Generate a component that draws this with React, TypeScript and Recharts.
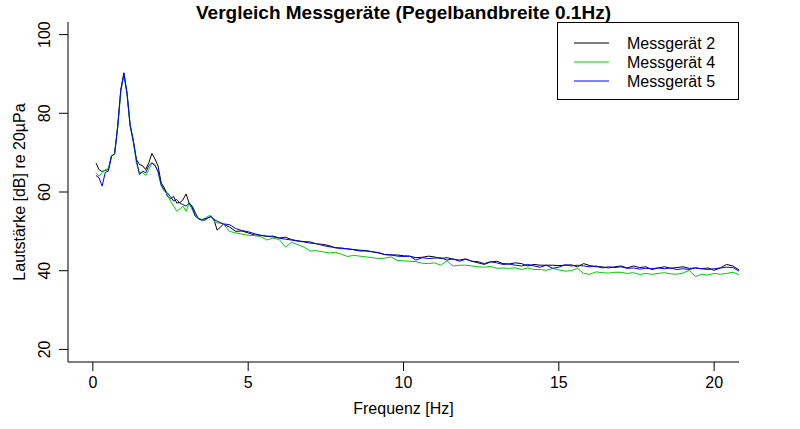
import { LineChart, Line, XAxis, YAxis, Legend } from "recharts"

// Frequenzachse: 0.1 Hz Schritte bis 4 Hz, danach 0.2 Hz
const freq = [
  0.1, 0.2, 0.3, 0.4, 0.5, 0.6, 0.7, 0.8, 0.9, 1.0,
  1.1, 1.2, 1.3, 1.4, 1.5, 1.6, 1.7, 1.8, 1.9, 2.0,
  2.1, 2.2, 2.3, 2.4, 2.5, 2.6, 2.7, 2.8, 2.9, 3.0,
  3.1, 3.2, 3.3, 3.4, 3.5, 3.6, 3.7, 3.8, 3.9, 4.0,
  4.2, 4.4, 4.6, 4.8, 5.0, 5.2, 5.4, 5.6, 5.8, 6.0,
  6.2, 6.4, 6.6, 6.8, 7.0, 7.2, 7.4, 7.6, 7.8, 8.0,
  8.2, 8.4, 8.6, 8.8, 9.0, 9.2, 9.4, 9.6, 9.8, 10.0,
  10.2, 10.4, 10.6, 10.8, 11.0, 11.2, 11.4, 11.6, 11.8, 12.0,
  12.2, 12.4, 12.6, 12.8, 13.0, 13.2, 13.4, 13.6, 13.8, 14.0,
  14.2, 14.4, 14.6, 14.8, 15.0, 15.2, 15.4, 15.6, 15.8, 16.0,
  16.2, 16.4, 16.6, 16.8, 17.0, 17.2, 17.4, 17.6, 17.8, 18.0,
  18.2, 18.4, 18.6, 18.8, 19.0, 19.2, 19.4, 19.6, 19.8, 20.0,
  20.2, 20.4, 20.6, 20.8,
]

const geraet2 = [
  67.4, 65.7, 65.2, 65.5, 65.7, 69.1, 69.7, 76.7, 86.0, 90.3,
  85.2, 77.1, 73.3, 68.3, 67.0, 66.7, 65.7, 67.4, 69.8, 68.4,
  66.6, 62.3, 61.1, 58.9, 58.3, 58.9, 57.2, 57.3, 58.0, 59.5,
  57.2, 56.4, 54.7, 53.2, 53.0, 52.8, 53.4, 53.85, 53.0, 50.3,
  51.8, 51.1, 50.0, 50.1, 49.6, 49.1, 49.0, 48.7, 48.8, 48.3,
  48.5, 47.9, 47.6, 47.4, 47.3, 46.8, 46.7, 46.4, 45.8, 45.8,
  45.5, 45.4, 45.2, 45.1, 44.8, 44.5, 44.1, 44.0, 44.0, 43.8,
  43.7, 43.3, 43.4, 43.7, 43.5, 43.1, 43.3, 42.9, 42.7, 43.0,
  42.4, 42.0, 41.6, 42.2, 42.4, 41.8, 41.7, 42.0, 41.8, 41.2,
  41.6, 41.4, 41.4, 41.4, 41.3, 41.4, 41.5, 41.0, 41.8, 41.3,
  41.0, 41.0, 40.7, 41.0, 41.2, 40.7, 41.2, 40.8, 41.0, 40.3,
  40.7, 41.0, 40.6, 40.8, 41.0, 40.6, 40.7, 40.5, 40.7, 40.1,
  40.7, 41.6, 41.2, 40.2,
]

const geraet4 = [
  64.9, 64.0, 64.9, 65.7, 65.9, 69.3, 69.6, 76.3, 85.6, 89.8,
  84.8, 76.7, 72.9, 67.4, 64.9, 65.0, 64.2, 65.7, 67.4, 67.0,
  64.9, 61.5, 60.2, 59.4, 57.7, 56.4, 55.1, 55.7, 56.4, 55.1,
  57.1, 55.5, 53.85, 53.4, 53.0, 53.2, 53.85, 54.0, 52.6, 52.2,
  51.9, 50.0, 49.6, 49.3, 49.0, 48.9, 48.7, 47.8, 48.3, 47.9,
  46.0, 47.2, 46.6, 46.0, 45.0, 45.1, 44.8, 44.5, 44.7, 44.2,
  43.6, 43.9, 43.7, 43.5, 43.3, 43.1, 43.2, 43.5, 42.6, 42.5,
  42.4, 42.3, 41.9, 41.8, 42.0, 41.4, 42.5, 41.2, 41.4, 41.4,
  41.2, 41.0, 40.9, 41.1, 40.6, 40.7, 40.6, 40.7, 40.3, 40.7,
  40.3, 40.3, 40.1, 40.6, 40.2, 39.9, 40.0, 40.6, 39.3, 39.1,
  39.7, 39.5, 39.4, 39.6, 39.6, 39.3, 39.5, 39.05, 39.3, 39.1,
  39.3, 39.5, 39.2, 39.1, 39.4, 40.1, 38.5, 39.1, 38.9, 39.3,
  39.1, 39.3, 39.6, 39.0,
]

const geraet5 = [
  64.2, 63.6, 61.5, 65.0, 65.3, 69.1, 69.7, 76.7, 85.9, 90.1,
  85.0, 76.9, 72.9, 68.3, 64.4, 65.3, 64.9, 66.7, 67.4, 66.7,
  65.3, 61.9, 60.5, 59.8, 58.8, 57.7, 58.1, 57.2, 56.8, 56.4,
  57.2, 56.0, 53.85, 53.2, 52.8, 53.2, 53.4, 53.7, 53.0, 52.6,
  51.9, 51.7, 50.7, 50.2, 49.9, 49.4, 49.0, 48.8, 48.6, 48.3,
  48.0, 47.8, 47.5, 47.3, 47.0, 46.9, 46.4, 46.1, 45.9, 45.6,
  45.6, 45.3, 45.0, 45.0, 44.8, 44.6, 44.1, 44.0, 43.7, 43.6,
  43.7, 42.7, 43.3, 43.1, 43.2, 43.3, 42.7, 43.0, 42.4, 42.9,
  42.4, 42.3, 41.8, 42.3, 42.0, 41.6, 41.7, 41.4, 41.2, 41.6,
  41.2, 40.9, 41.4, 40.6, 40.9, 41.5, 41.2, 41.4, 41.2, 41.0,
  41.2, 40.7, 41.0, 40.8, 41.0, 40.6, 40.7, 40.4, 40.6, 40.5,
  40.7, 40.5, 40.7, 40.3, 40.5, 40.3, 40.7, 40.5, 40.3, 40.5,
  40.7, 40.9, 40.8, 39.9,
]

const seriesNames = ["Messgerät 2", "Messgerät 4", "Messgerät 5"]
const xTicks = [0, 5, 10, 15, 20]
const yTicks = [20, 40, 60, 80, 100]
const title = "Vergleich Messgeräte (Pegelbandbreite 0.1Hz)"

const series = [
  { key: "g2", name: seriesNames[0], color: "#000000", values: geraet2 },
  { key: "g4", name: seriesNames[1], color: "#00CD00", values: geraet4 },
  { key: "g5", name: seriesNames[2], color: "#0000FF", values: geraet5 },
]

const data = freq.map((f, i) => {
  const row: Record<string, number> = { f }
  series.forEach((s) => {
    row[s.key] = s.values[i]
  })
  return row
})

const font = "'Liberation Sans', Arial, Helvetica, sans-serif"
const xDomain = [-0.8, 20.8]
const yDomain = [16.8, 103.2]

function XTick({ x, y, payload }: any) {
  return (
    <text x={x} y={y + 15} textAnchor="middle" fontSize={16} fontFamily={font} fill="#000">
      {payload.value}
    </text>
  )
}

function YTick({ x, y, payload }: any) {
  const bx = x - 7
  return (
    <text x={bx} y={y} transform={`rotate(-90, ${bx}, ${y})`} textAnchor="middle" fontSize={16} fontFamily={font} fill="#000">
      {payload.value}
    </text>
  )
}

// x-Achsenbeschriftung plus Titel (über dem Plot, gleiche Mitte)
function XLabel(p: any) {
  const cx = p.viewBox.x + p.viewBox.width / 2
  return (
    <g>
      <text x={cx} y={19} textAnchor="middle" fontSize={19} fontWeight="bold" fontFamily={font} fill="#000">
        {title}
      </text>
      <text x={cx} y={414} textAnchor="middle" fontSize={16} fontFamily={font} fill="#000">
        Frequenz [Hz]
      </text>
    </g>
  )
}

function LegendBox() {
  return (
    <svg width={182} height={78} style={{ display: "block" }}>
      <rect x={0.5} y={0.5} width={181} height={77} fill="#fff" stroke="#000" />
      {series.map((s, i) => (
        <g key={s.key}>
          <line x1={17} x2={52} y1={21 + i * 19} y2={21 + i * 19} stroke={s.color} strokeWidth={1} />
          <text x={70} y={21 + i * 19} dominantBaseline="central" fontSize={16} fontFamily={font} fill="#000">
            {s.name}
          </text>
        </g>
      ))}
    </svg>
  )
}

export default function App() {
  return (
    <div style={{ position: "absolute", left: 0, top: 0, background: "#fff" }}>
      <LineChart width={800} height={429} data={data} margin={{ top: 22, right: 61, bottom: 27, left: 8 }}>
        <XAxis
          dataKey="f"
          type="number"
          domain={xDomain}
          ticks={xTicks}
          allowDataOverflow
          height={40}
          tickSize={9}
          tickMargin={2}
          stroke="#000"
          tick={<XTick />}
          label={XLabel}
        />
        <XAxis
          xAxisId="top"
          orientation="top"
          type="number"
          domain={xDomain}
          allowDataOverflow
          height={0}
          tick={false}
          tickLine={false}
          stroke="#000"
        />
        <YAxis
          type="number"
          domain={yDomain}
          ticks={yTicks}
          allowDataOverflow
          width={60}
          tickSize={9}
          tickMargin={2}
          stroke="#000"
          tick={<YTick />}
          label={(p: any) => {
            const cy = p.viewBox.y + p.viewBox.height / 2
            return (
              <text x={25} y={cy} transform={`rotate(-90, 25, ${cy})`} textAnchor="middle" fontSize={16} fontFamily={font} fill="#000">
                Lautstärke [dB] re 20µPa
              </text>
            )
          }}
        />
        <YAxis
          yAxisId="right"
          orientation="right"
          type="number"
          domain={yDomain}
          allowDataOverflow
          width={0}
          tick={false}
          tickLine={false}
          stroke="#000"
        />
        {series.map((s) => (
          <Line
            key={s.key}
            dataKey={s.key}
            name={s.name}
            type="linear"
            stroke={s.color}
            strokeWidth={1}
            dot={false}
            activeDot={false}
            isAnimationActive={false}
          />
        ))}
        <Legend
          layout="vertical"
          align="center"
          verticalAlign="middle"
          wrapperStyle={{ left: 557, top: 22, width: 182, height: 78 }}
          content={() => <LegendBox />}
        />
      </LineChart>
    </div>
  )
}
